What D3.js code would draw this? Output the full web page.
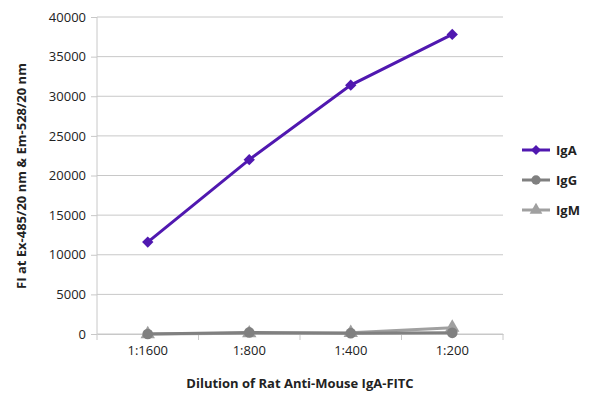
<!DOCTYPE html><html><head><meta charset="utf-8"><script src="https://cdn.jsdelivr.net/npm/d3@7"></script>
<style>body{margin:0;background:#fff}text{font-family:"Open Sans",sans-serif}</style></head><body><svg id="c" width="600" height="407"></svg>
<script>
const categories=["1:1600","1:800","1:400","1:200"];
const igA=[11600,22000,31400,37800];
const igG=[0,200,100,150];
const igM=[0,100,150,800];
const yTicks=[0,5000,10000,15000,20000,25000,30000,35000,40000];
const series=[{name:"IgA",vals:igA,color:"#5018b0",sym:d3.symbolSquare,rot:45},{name:"IgG",vals:igG,color:"#808080",sym:d3.symbolCircle,rot:0},{name:"IgM",vals:igM,color:"#a0a0a0",sym:d3.symbolTriangle,rot:0}];
const svg=d3.select("#c");
const x=d3.scaleBand().domain(categories).range([97,503]);
const y=d3.scaleLinear().domain([0,40000]).range([334,17]);
const g=svg.append("g");
g.selectAll(".grid").data(yTicks).join("line").attr("x1",97).attr("x2",503).attr("y1",d=>y(d)).attr("y2",d=>y(d)).attr("stroke","#c8c8c8").attr("stroke-width",1);
g.append("line").attr("x1",97).attr("x2",97).attr("y1",17).attr("y2",334).attr("stroke","#c8c8c8");
const xa=svg.append("g").attr("transform","translate(0,334)").call(d3.axisBottom(x).tickSize(0).tickPadding(12));
xa.select(".domain").attr("stroke","#c8c8c8");
xa.selectAll("text").attr("font-size",13).attr("fill","#222");
svg.selectAll(".xt").data(d3.range(5)).join("line").attr("x1",i=>97+i*x.step()).attr("x2",i=>97+i*x.step()).attr("y1",334).attr("y2",340).attr("stroke","#c8c8c8");
const ya=svg.append("g").attr("transform","translate(97,0)").call(d3.axisLeft(y).tickValues(yTicks).tickFormat(d3.format("d")).tickSize(6).tickPadding(5));
ya.select(".domain").remove();ya.selectAll("line").attr("stroke","#c8c8c8");
ya.selectAll("text").attr("font-size",13).attr("fill","#222");
const cx=d=>x(d)+x.bandwidth()/2;
[...series].reverse().forEach(s=>{
 svg.append("path").datum(s.vals).attr("fill","none").attr("stroke",s.color).attr("stroke-width",3)
  .attr("d",d3.line().x((v,i)=>cx(categories[i])).y(v=>y(v)));
 svg.selectAll(null).data(s.vals).join("path").attr("transform",(v,i)=>`translate(${cx(categories[i])},${y(v)}) rotate(${s.rot})`)
  .attr("d",d3.symbol().type(s.sym).size(s.rot?64:90)).attr("fill",s.color);
});
const lg=svg.append("g");
series.forEach((s,i)=>{const yy=150+i*30;
 lg.append("line").attr("x1",522).attr("x2",550).attr("y1",yy).attr("y2",yy).attr("stroke",s.color).attr("stroke-width",3);
 lg.append("path").attr("transform",`translate(536,${yy}) rotate(${s.rot})`).attr("d",d3.symbol().type(s.sym).size(s.rot?50:70)).attr("fill",s.color);
 lg.append("text").attr("x",556).attr("y",yy+5).attr("font-size",13).attr("font-weight","bold").attr("fill","#222").text(s.name);});
svg.append("text").attr("x",300).attr("y",388).attr("text-anchor","middle").attr("font-size",13).attr("font-weight","bold").attr("fill","#222").text("Dilution of Rat Anti-Mouse IgA-FITC");
svg.append("text").attr("transform","translate(26,176) rotate(-90)").attr("text-anchor","middle").attr("font-size",13).attr("font-weight","bold").attr("fill","#222").text("FI at Ex-485/20 nm & Em-528/20 nm");
</script></body></html>
